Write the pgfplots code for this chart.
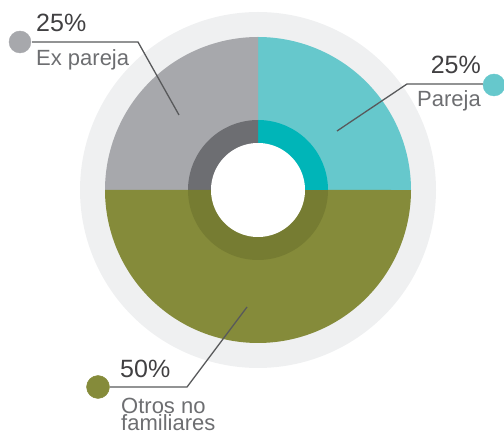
\documentclass[border=0pt]{standalone}
\usepackage{fontspec}
\setmainfont{Liberation Sans}
\usepackage{pgfplots}
\pgfplotsset{compat=1.18}
\usepackage{pgfplotstable}
\definecolor{ringgray}{HTML}{EFF0F1}
\definecolor{cteal}{HTML}{66C8CC}
\definecolor{cteald}{HTML}{00B5B8}
\definecolor{cgray}{HTML}{A7A8AC}
\definecolor{cgrayd}{HTML}{6D6E72}
\definecolor{colive}{HTML}{858B3A}
\definecolor{colived}{HTML}{767C32}
\definecolor{pcttext}{HTML}{414042}
\definecolor{labtext}{HTML}{6D6E71}
\definecolor{leader}{HTML}{58595B}
% shares (percent): Pareja, Ex pareja, Otros no familiares
\def\pA{25}\def\pB{25}\def\pC{50}
\begin{document}
\begin{tikzpicture}
\begin{axis}[
  scale only axis, width=504bp, height=432bp,
  xmin=0, xmax=504, ymin=0, ymax=432,
  hide axis, clip=true,
]
% outer light ring
\addplot[fill=ringgray, draw=none, domain=0:360, samples=181] ({258+178*cos(x)},{242+178*sin(x)}) -- cycle;
% pie slices
\addplot[fill=cteal, draw=none, domain=0:{3.6*\pA}, samples=60] ({258+153*cos(x)},{242+153*sin(x)}) -- (axis cs:258,242) -- cycle;
\addplot[fill=cgray, draw=none, domain={3.6*\pA}:{3.6*(\pA+\pB)}, samples=60] ({258+153*cos(x)},{242+153*sin(x)}) -- (axis cs:258,242) -- cycle;
\addplot[fill=colive, draw=none, domain={3.6*(\pA+\pB)}:{3.6*(\pA+\pB+\pC)}, samples=120] ({258+153*cos(x)},{242+153*sin(x)}) -- (axis cs:258,242) -- cycle;
% inner dark ring
\addplot[fill=cteald, draw=none, domain=0:{3.6*\pA}, samples=40] ({258+70*cos(x)},{242+70*sin(x)}) -- (axis cs:258,242) -- cycle;
\addplot[fill=cgrayd, draw=none, domain={3.6*\pA}:{3.6*(\pA+\pB)}, samples=40] ({258+70*cos(x)},{242+70*sin(x)}) -- (axis cs:258,242) -- cycle;
\addplot[fill=colived, draw=none, domain={3.6*(\pA+\pB)}:{3.6*(\pA+\pB+\pC)}, samples=80] ({258+70*cos(x)},{242+70*sin(x)}) -- (axis cs:258,242) -- cycle;
% white hole
\addplot[fill=white, draw=none, domain=0:360, samples=121] ({258+47*cos(x)},{242+47*sin(x)}) -- cycle;
% leader lines
\addplot[draw=leader, line width=1.3bp] coordinates {(32,390) (138,390) (179,317)};
\addplot[draw=leader, line width=1.3bp] coordinates {(483,348) (407,348) (337,301)};
\addplot[draw=leader, line width=1.3bp] coordinates {(110,45) (187,45) (247,125)};
% dots
\addplot[only marks, mark=*, mark size=11bp, color=cgray] coordinates {(20,390)};
\addplot[only marks, mark=*, mark size=11bp, color=cteal] coordinates {(494,347)};
\addplot[only marks, mark=*, mark size=11.5bp, color=colive] coordinates {(98,45)};
% texts
\node[anchor=base west, inner sep=0pt, text=pcttext, font=\fontsize{25bp}{29bp}\selectfont] at (axis cs:36,400) {25\%};
\node[anchor=base west, inner sep=0pt, text=labtext, font=\fontsize{22bp}{26bp}\selectfont] at (axis cs:36,366) {Ex pareja};
\node[anchor=base east, inner sep=0pt, text=pcttext, font=\fontsize{25bp}{29bp}\selectfont] at (axis cs:481,358) {25\%};
\node[anchor=base east, inner sep=0pt, text=labtext, font=\fontsize{22bp}{26bp}\selectfont] at (axis cs:481,325) {Pareja};
\node[anchor=base west, inner sep=0pt, text=pcttext, font=\fontsize{25bp}{29bp}\selectfont] at (axis cs:120,54) {50\%};
\node[anchor=base west, inner sep=0pt, text=labtext, font=\fontsize{22bp}{26bp}\selectfont] at (axis cs:121,19) {Otros no};
\node[anchor=base west, inner sep=0pt, text=labtext, font=\fontsize{22bp}{26bp}\selectfont] at (axis cs:121,2) {familiares};
\end{axis}
\pgfresetboundingbox
\path[use as bounding box] (current axis.south west) rectangle (current axis.north east);
\end{tikzpicture}
\end{document}
